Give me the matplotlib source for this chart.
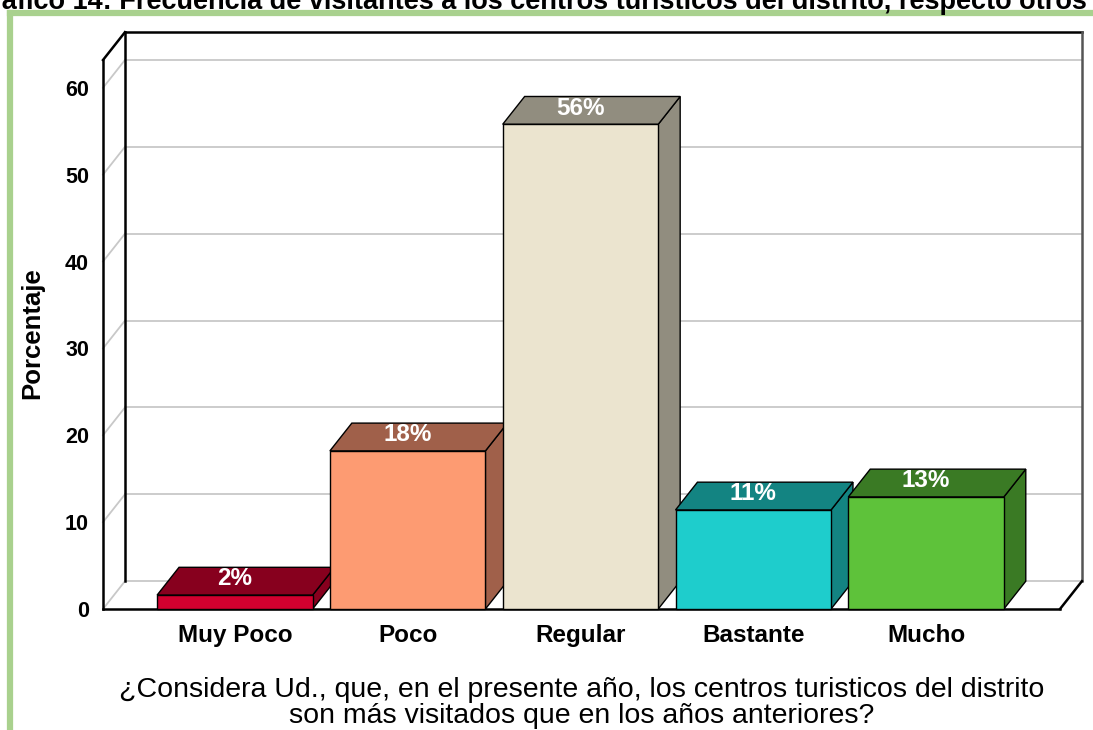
import matplotlib
matplotlib.use("Agg")
import matplotlib.pyplot as plt
from matplotlib.patches import Polygon, Rectangle
from matplotlib.lines import Line2D

# ─── Data ─────────────────────────────────────────────────────────────────────

categories = ["Muy Poco", "Poco", "Regular", "Bastante", "Mucho"]
values     = [1.6, 18.2, 55.8, 11.4, 12.9]
y_ticks    = [0, 10, 20, 30, 40, 50, 60]

front_colors = ["#d2002f", "#fd9b72", "#ebe4cf", "#1ecdcc", "#5ec23a"]
dark_colors  = ["#87001e", "#a0604a", "#918d7f", "#138482", "#3a7a24"]

title_top = ("Gráfico 14: Frecuencia de visitantes a los centros turísticos "
             "del distrito, respecto otros años")
x_title   = ("¿Considera Ud., que, en el presente año, los centros turisticos del distrito\n"
             "son más visitados que en los años anteriores?")

# ─── Layout ───────────────────────────────────────────────────────────────────

W, H   = 1093, 730
X0, X1 = -0.763, 4.775     # front floor extent (category units)
YTOP   = 63.2              # wall height (percent)
DX, DY = 0.127, 3.2        # depth offset of the back wall
BAR_W  = 0.90
GRID   = "#c8c8c8"
FONT   = "Liberation Sans"

fig = plt.figure(figsize=(W / 100, H / 100), dpi=100)
fig.patch.set_facecolor("white")

ax = fig.add_axes([103 / W, (H - 609) / H, (1060 - 103) / W, (609 - 60) / H])
ax.set_xlim(X0, X1)
ax.set_ylim(0, YTOP)
for s in ax.spines.values():
    s.set_visible(False)
ax.patch.set_visible(False)


def seg(xs, ys, color="black", lw=1.6, z=1):
    ax.add_line(Line2D(xs, ys, color=color, lw=lw, zorder=z, clip_on=False,
                       solid_capstyle="projecting"))


# gridlines on back wall and left side
for v in y_ticks:
    seg([X0 + DX, X1 + DX], [v + DY, v + DY], GRID, 1.3, 1)
    seg([X0, X0 + DX], [v, v + DY], GRID, 1.3, 1)

# wall frame
seg([X0 + DX, X0 + DX], [DY, YTOP + DY], "black", 1.8, 2)
seg([X0 + DX, X1 + DX], [YTOP + DY, YTOP + DY], "black", 1.8, 2)
seg([X1 + DX, X1 + DX], [DY, YTOP + DY], "#555555", 1.8, 2)
seg([X0, X0], [0, YTOP], "black", 1.8, 2)
seg([X0, X0 + DX], [YTOP, YTOP + DY], "black", 1.8, 2)
seg([X0, X1], [0, 0], "black", 1.8, 2)
seg([X1, X1 + DX], [0, DY], "black", 1.8, 2)

# bars
for i, (v, fc, dc) in enumerate(zip(values, front_colors, dark_colors)):
    l, r = i - BAR_W / 2, i + BAR_W / 2
    z = 3 + i
    side = Polygon([(r, 0), (r + DX, DY), (r + DX, v + DY), (r, v)],
                   closed=True, facecolor=dc, edgecolor="black", lw=1.0,
                   zorder=z, clip_on=False)
    top = Polygon([(l, v), (r, v), (r + DX, v + DY), (l + DX, v + DY)],
                  closed=True, facecolor=dc, edgecolor="black", lw=1.0,
                  zorder=z, clip_on=False)
    front = Rectangle((l, 0), BAR_W, v, facecolor=fc, edgecolor="black",
                      lw=1.0, zorder=z, clip_on=False)
    ax.add_patch(side)
    ax.add_patch(top)
    ax.add_patch(front)
    ax.text(i, v + DY * 0.58, f"{round(v)}%", ha="center", va="center",
            color="white", fontsize=17.5, fontweight="bold",
            family=FONT, zorder=20)

# ticks
ax.set_yticks(y_ticks)
ax.set_yticklabels([str(t) for t in y_ticks], fontsize=15.5, fontweight="bold",
                   family=FONT)
ax.set_xticks(range(len(categories)))
ax.set_xticklabels(categories, fontsize=17.5, fontweight="bold", family=FONT)
ax.tick_params(axis="both", length=0)
ax.tick_params(axis="y", pad=10)
ax.tick_params(axis="x", pad=11)

# labels
fig.text(32 / W, 1 - 333 / H, "Porcentaje", rotation=90, ha="center",
         va="center", fontsize=18.5, fontweight="bold", family=FONT)
fig.text(582 / W, 1 - 703 / H, x_title, ha="center", va="center",
         fontsize=20.5, family=FONT, linespacing=1.0)
fig.text(-30 / W, 1 - 9 / H, title_top, ha="left", va="baseline",
         fontsize=19.5, fontweight="bold", family=FONT)

# green frame
fig.add_artist(Line2D([10 / W, 10 / W], [0, 1 - 13 / H], color="#a9d18e",
                      lw=4.5, transform=fig.transFigure))
fig.add_artist(Line2D([10 / W, 1.01], [1 - 13 / H, 1 - 13 / H],
                      color="#a9d18e", lw=4.5, transform=fig.transFigure))

fig.savefig("out.png", dpi=100)
